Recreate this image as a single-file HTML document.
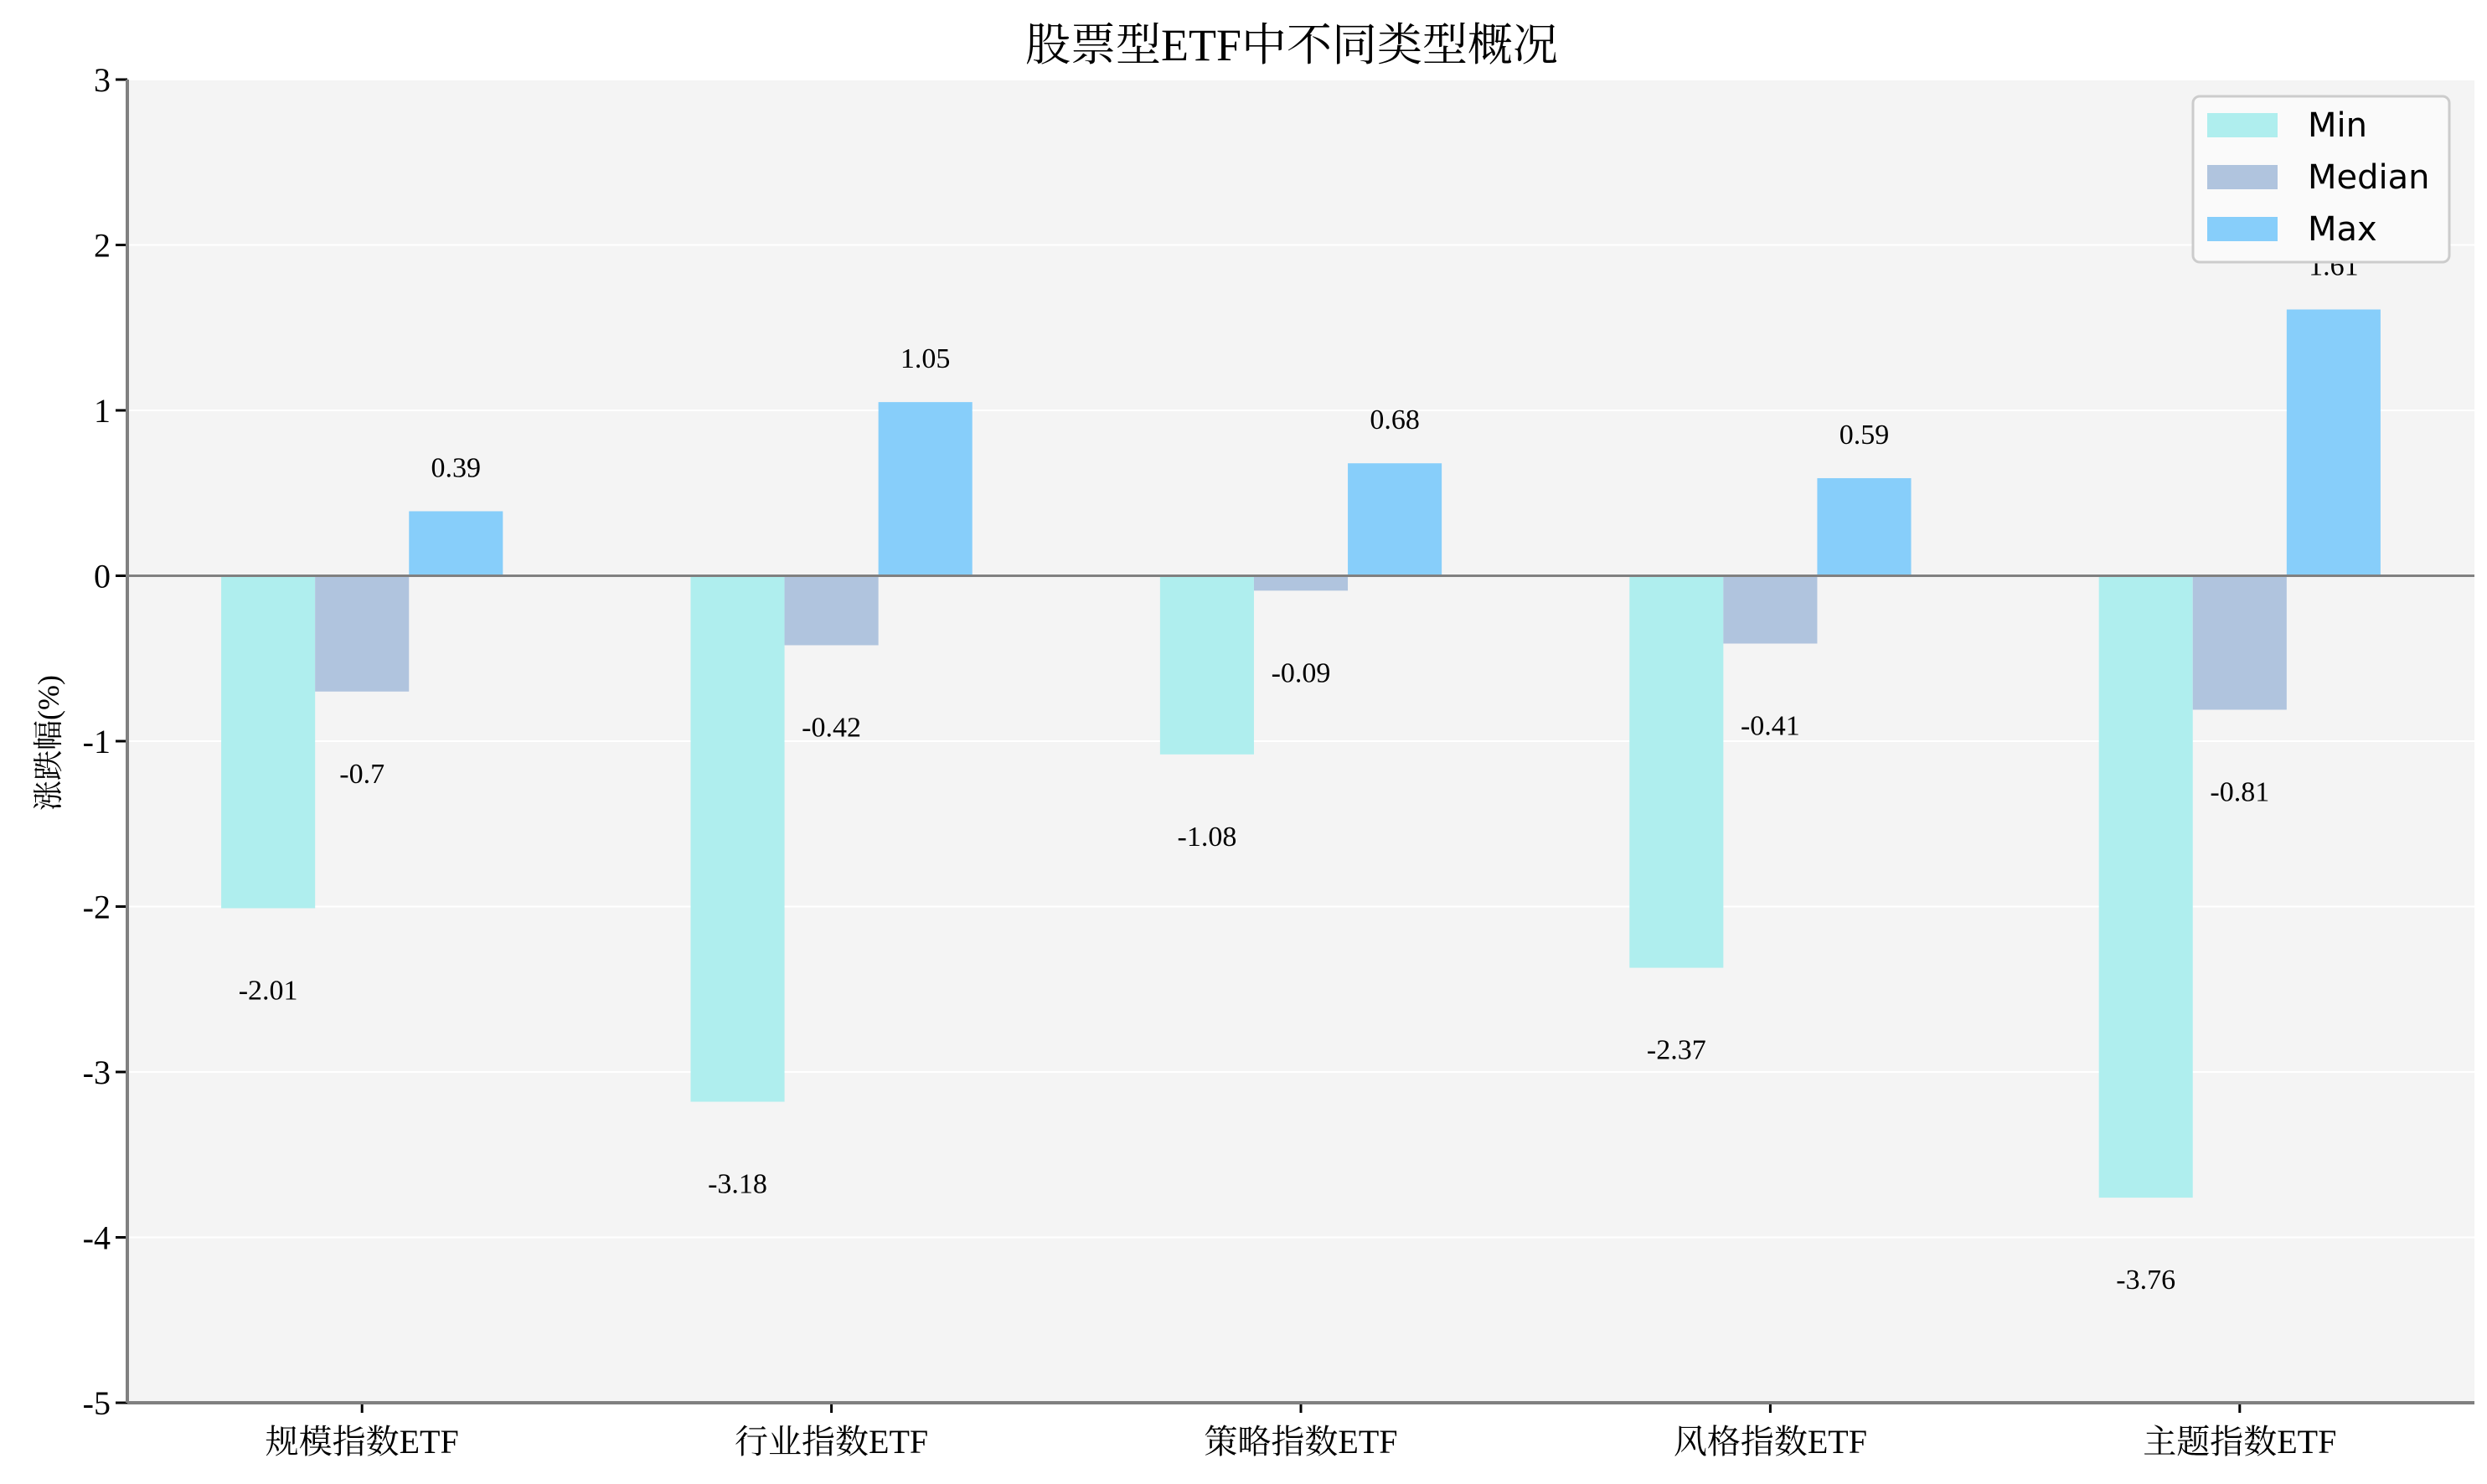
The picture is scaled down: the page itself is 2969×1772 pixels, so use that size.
<!DOCTYPE html>
<html><head><meta charset="utf-8"><style>
body{margin:0;background:#fff;}
svg text{font-family:"Liberation Serif","Noto Serif CJK SC",serif;fill:#000;}
</style></head><body>
<svg id="chart" width="2969" height="1767" viewBox="0 0 2969 1767" xmlns="http://www.w3.org/2000/svg">
<rect width="2969" height="1767" fill="#fff"/>
<text x="1542" y="72" font-size="54" text-anchor="middle">股票型ETF中不同类型概况</text>
<rect x="152" y="95" width="2802" height="1580" fill="#f4f4f4"/>
<g id="grid"></g>
<g id="bars"></g>
<g id="axes"></g>
<text transform="translate(70,887) rotate(-90)" font-size="36" text-anchor="middle">涨跌幅(%)</text>
<g>
<rect x="2618" y="115" width="306" height="198" rx="8" fill="#fafafa" stroke="#cccccc" stroke-width="3"/>
<rect x="2635" y="135" width="84" height="29" fill="#afeeee"/>
<text x="2755" y="163" font-size="40" style="font-family:'DejaVu Sans',sans-serif">Min</text>
<rect x="2635" y="197" width="84" height="29" fill="#b0c4de"/>
<text x="2755" y="225" font-size="40" style="font-family:'DejaVu Sans',sans-serif">Median</text>
<rect x="2635" y="259" width="84" height="29" fill="#87cefa"/>
<text x="2755" y="287" font-size="40" style="font-family:'DejaVu Sans',sans-serif">Max</text>
</g>
</svg>
<script>
const categories = ["规模指数ETF","行业指数ETF","策略指数ETF","风格指数ETF","主题指数ETF"];
const minValues = [-2.01,-3.18,-1.08,-2.37,-3.76];
const medianValues = [-0.7,-0.42,-0.09,-0.41,-0.81];
const maxValues = [0.39,1.05,0.68,0.59,1.61];
const yTicks = [3,2,1,0,-1,-2,-3,-4,-5];

const NS="http://www.w3.org/2000/svg";
const L=152,R=2954,T=95,B=1675,yMax=3,yMin=-5;
const yScale=v=>T+(yMax-v)/(yMax-yMin)*(B-T);
const xScale=i=>L+(i+0.5)*(R-L)/categories.length;
const bw=(R-L)/categories.length*0.2;
function mk(tag,attrs,parent,txt){const e=document.createElementNS(NS,tag);for(const k in attrs)e.setAttribute(k,attrs[k]);if(txt!==undefined)e.textContent=txt;parent.appendChild(e);return e;}
const grid=document.getElementById('grid'),bars=document.getElementById('bars'),axes=document.getElementById('axes');
yTicks.forEach(t=>{
  const y=yScale(t);
  const g=mk('line',{x1:L,x2:R,y1:y,y2:y,stroke:'#ffffff','stroke-width':2},grid);
  
  
  const tk=mk('line',{x1:L-14,x2:L,y1:y,y2:y,stroke:'#000','stroke-width':3},axes);
  
  
  const lb=mk('text',{x:L-20,y:y+14,'font-size':40,'text-anchor':'end'},axes,String(t).replace('-','-'));
  
  
});
const series=[{v:minValues,c:'#afeeee',n:'min',o:-1},{v:medianValues,c:'#b0c4de',n:'median',o:0},{v:maxValues,c:'#87cefa',n:'max',o:1}];
categories.forEach((cat,i)=>{
  series.forEach(s=>{
    const v=s.v[i],cx=xScale(i)+s.o*bw,y0=yScale(0),y1=yScale(v);
    const r=mk('rect',{x:cx-bw/2,y:Math.min(y0,y1),width:bw,height:Math.abs(y1-y0),fill:s.c},bars);
    
    
    const ty=v>=0?y1-53+12:y1+97+12;
    const t=mk('text',{x:cx,y:ty,'font-size':34,'text-anchor':'middle'},bars,String(v));
    
    
  });
  const x=xScale(i);
  const tk=mk('line',{x1:x,x2:x,y1:B,y2:B+12,stroke:'#000','stroke-width':3},axes);
  
  
  const lb=mk('text',{x:x,y:B+60,'font-size':40,'text-anchor':'middle'},axes,cat);
  
  
});
const z=mk('line',{x1:L,x2:R,y1:yScale(0),y2:yScale(0),stroke:'#808080','stroke-width':3},axes);


const ya=mk('line',{x1:L,x2:L,y1:T,y2:B,stroke:'#808080','stroke-width':4},axes);


const xa=mk('line',{x1:L,x2:R,y1:B,y2:B,stroke:'#808080','stroke-width':4},axes);


</script>
</body></html>
